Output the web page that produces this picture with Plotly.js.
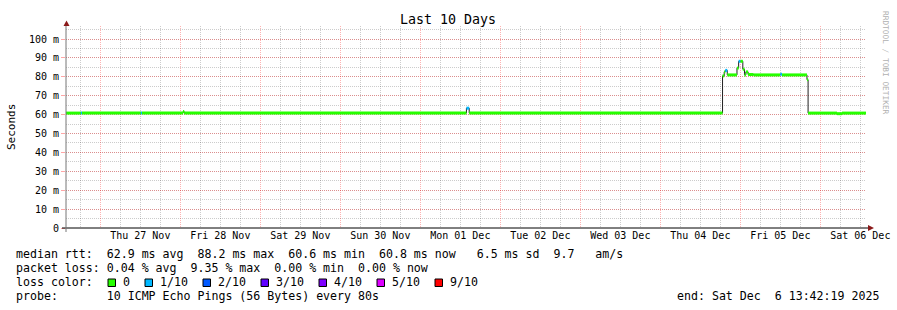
<!DOCTYPE html>
<html>
<head>
<meta charset="utf-8">
<script src="https://cdn.plot.ly/plotly-3.0.1.min.js"></script>
<style>html,body{margin:0;padding:0;background:#fff;}#chart{width:897px;height:310px;}</style>
</head>
<body>
<div id="chart"></div>
<script>
// ---- data ----
const startTime = "2025-11-26 13:42:19";
const endTime   = "2025-12-06 13:42:19";
// step segments: start time, median rtt (ms), loss (tenths)
const segStart = [
  "2025-11-26 13:42:19","2025-11-26 18:10","2025-11-26 18:30","2025-11-27 12:10","2025-11-27 12:30",
  "2025-11-28 00:50","2025-11-28 01:10","2025-12-01 13:50","2025-12-01 14:40","2025-12-04 18:40",
  "2025-12-04 19:10","2025-12-04 19:30","2025-12-04 20:05","2025-12-04 23:00","2025-12-04 23:30",
  "2025-12-05 00:00","2025-12-05 00:45","2025-12-05 01:15","2025-12-05 01:40","2025-12-05 02:20",
  "2025-12-05 04:00","2025-12-05 12:00","2025-12-05 12:30","2025-12-05 20:00","2025-12-05 20:20",
  "2025-12-06 05:00","2025-12-06 06:30"
];
const medianMs = [
  60.8, 60.9, 60.8, 60.9, 60.8,
  61.6, 60.8, 63.4, 60.8, 80.5,
  82.6, 83.4, 81.0, 84.6, 88.2,
  88.2, 84.0, 81.0, 82.6, 81.2,
  81.0, 81.4, 81.0, 78.5, 60.8,
  60.5, 60.8
];
const lossTenths = [
  0, 1, 0, 1, 0,
  0, 0, 1, 0, 0,
  0, 1, 0, 0, 1,
  0, 0, 0, 0, 0,
  0, 1, 0, 0, 0,
  0, 0
];
const yTickVals  = [0, 10, 20, 30, 40, 50, 60, 70, 80, 90, 100];
const yTickText  = ["0", "10 m", "20 m", "30 m", "40 m", "50 m", "60 m", "70 m", "80 m", "90 m", "100 m"];
const lossLevels = [0, 1, 2, 3, 4, 5, 9];
const lossLabels = ["0", "1/10", "2/10", "3/10", "4/10", "5/10", "9/10"];
const lossColors = ["#26ff00", "#00b8ff", "#0059ff", "#5e00ff", "#7e00ff", "#dd00ff", "#ff0000"];
const statLines = [
  "median rtt:  62.9 ms avg  88.2 ms max  60.6 ms min  60.8 ms now   6.5 ms sd  9.7   am/s",
  "packet loss: 0.04 % avg  9.35 % max  0.00 % min  0.00 % now"
];
const probeLine = "probe:       10 ICMP Echo Pings (56 Bytes) every 80s";
const endLine = "end: Sat Dec  6 13:42:19 2025";

// ---- geometry ----
const W = 897, H = 310, L = 66, R = 31, T = 26, B = 82;
const PW = W - L - R, PH = H - T - B;
const msPerPx = 1 / 1.89;
const yMax = PH * msPerPx;
const px = x => (x - L) / PW;
const py = y => (H - B - y) / PH;
const MONO = "DejaVu Sans Mono";

// ---- traces ----
const segEnd = segStart.slice(1).concat([endTime]);
const traces = [];
traces.push({
  type: "scatter", mode: "lines", x: segStart.concat([endTime]), y: medianMs.concat([medianMs[medianMs.length-1]]),
  line: {shape: "hv", color: "#202020", width: 1}, hoverinfo: "skip", showlegend: false
});
lossLevels.forEach((lv, k) => {
  const xs = [], ys = [];
  for (let i = 0; i < segStart.length; i++) {
    if (lossTenths[i] !== lv) continue;
    xs.push(segStart[i], segEnd[i], null);
    ys.push(medianMs[i], medianMs[i], null);
  }
  if (xs.length) traces.push({
    type: "scatter", mode: "lines", x: xs, y: ys, connectgaps: false,
    line: {color: lossColors[k], width: 3}, hoverinfo: "skip", showlegend: false
  });
});

// ---- annotations & decorations ----
const ann = [];
const shapes = [];
const txt = (text, xp, yp, opts) => Object.assign({
  text, xref: "paper", yref: "paper", x: px(xp - 2), y: py(yp), showarrow: false,
  xanchor: "left", yanchor: "middle", font: {family: MONO, size: 11.6, color: "#000"}
}, opts || {});

ann.push(txt(statLines[0], 16, 254.3));
ann.push(txt(statLines[1], 16, 268.3));
ann.push(txt("loss color:", 16, 282.3));
ann.push(txt(probeLine, 16, 296));
ann.push(txt(endLine, 883, 296, {xanchor: "right"}));
ann.push(txt("Seconds", 13, 127, {xanchor: "center", textangle: -90, font: {family: MONO, size: 11, color: "#000"}}));
ann.push(txt("RRDTOOL / TOBI OETIKER", 888, 63, {xanchor: "center", textangle: 90, font: {family: MONO, size: 7.8, color: "#b0b0b0"}}));

let bx = 108;
lossLabels.forEach((lab, k) => {
  shapes.push({type: "rect", xref: "paper", yref: "paper", x0: px(bx), x1: px(bx + 7.5), y0: py(286.5), y1: py(279),
    fillcolor: lossColors[k], line: {color: "#000", width: 1}});
  ann.push(txt(lab, bx + 15, 282.3));
  bx = bx + 15 + lab.length * 7 + 15;
});

// axis extensions and arrows
shapes.push({type: "line", xref: "paper", yref: "paper", x0: px(62), x1: px(869), y0: 0, y1: 0, line: {color: "#000", width: 1}});
shapes.push({type: "path", xref: "paper", yref: "paper",
  path: `M ${px(868)} ${py(225)} L ${px(874)} ${py(228)} L ${px(868)} ${py(231)} Z`, fillcolor: "#8b1a1a", line: {width: 0}});
shapes.push({type: "line", xref: "paper", yref: "paper", x0: px(66), x1: px(66), y0: py(232), y1: py(25), line: {color: "#777", width: 1}});
shapes.push({type: "path", xref: "paper", yref: "paper",
  path: `M ${px(63.5)} ${py(26)} L ${px(66.5)} ${py(20.5)} L ${px(69.5)} ${py(26)} Z`, fillcolor: "#8b1a1a", line: {width: 0}});

const layout = {
  width: W, height: H,
  margin: {l: L, r: R, t: T, b: B, pad: 0},
  paper_bgcolor: "#fff", plot_bgcolor: "#fff",
  showlegend: false,
  title: {text: "Last 10 Days", font: {family: MONO, size: 13.3, color: "#000"},
          x: 448 / W, xanchor: "center", xref: "container", y: 1 - 19 / H, yanchor: "middle", yref: "container"},
  xaxis: {
    type: "date", range: [startTime, endTime], fixedrange: true,
    tick0: "2025-11-27", dtick: 86400000, tickformat: "%a %d %b", ticklabelmode: "period",
    ticks: "", showline: false, zeroline: false,
    showgrid: true, gridcolor: "rgba(255,0,0,0.3)", gridwidth: 1, griddash: "1px,1px",
    minor: {dtick: 6 * 3600000, showgrid: true, gridcolor: "rgba(0,0,0,0.2)", gridwidth: 1, griddash: "1px,1px"},
    tickfont: {family: MONO, size: 10, color: "#000"}
  },
  yaxis: {
    range: [0, yMax], fixedrange: true,
    tickvals: yTickVals, ticktext: yTickText,
    ticks: "outside", ticklen: 4, tickcolor: "rgba(255,0,0,0.35)", tickwidth: 1,
    showline: false, zeroline: false,
    showgrid: true, gridcolor: "rgba(255,0,0,0.3)", gridwidth: 1, griddash: "1px,1px",
    minor: {dtick: 5, showgrid: true, gridcolor: "rgba(0,0,0,0.2)", gridwidth: 1, griddash: "1px,1px"},
    tickfont: {family: MONO, size: 10, color: "#000"}
  },
  annotations: ann,
  shapes: shapes
};

Plotly.newPlot("chart", traces, layout, {staticPlot: true, displayModeBar: false});
</script>
</body>
</html>
